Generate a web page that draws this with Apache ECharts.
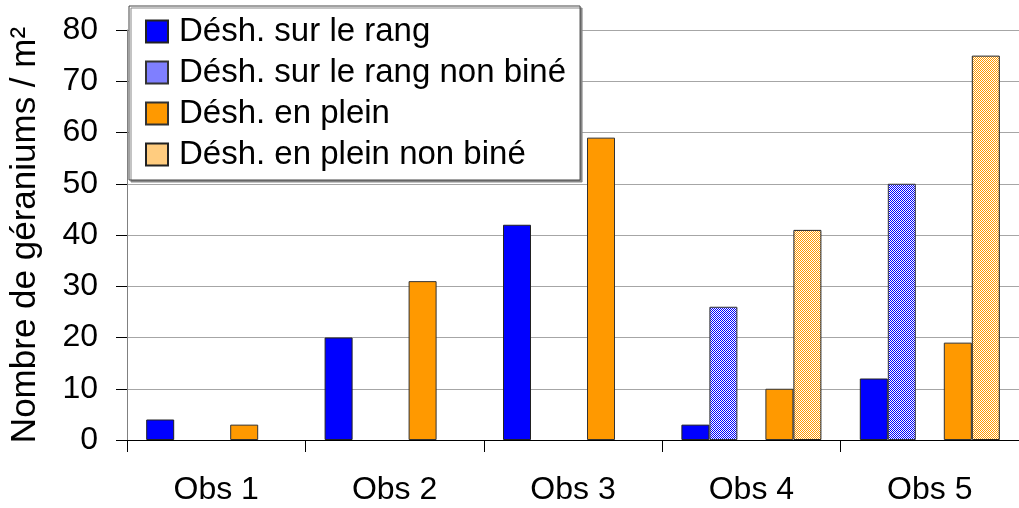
<!DOCTYPE html>
<html>
<head>
<meta charset="utf-8">
<script src="https://cdn.jsdelivr.net/npm/echarts@6/dist/echarts.min.js"></script>
<style>html,body{margin:0;padding:0;background:#fff;}#c{width:1019px;height:508px;}</style>
</head>
<body>
<div id="c"></div>
<script>
const categories = ['Obs 1', 'Obs 2', 'Obs 3', 'Obs 4', 'Obs 5'];
const seriesNames = ['Désh. sur le rang', 'Désh. sur le rang non biné', 'Désh. en plein', 'Désh. en plein non biné'];
const rangValues = [4, 20, 42, 3, 12];
const rangNonBineValues = [null, null, null, 26, 50];
const pleinValues = [3, 31, 59, 10, 19];
const pleinNonBineValues = [null, null, null, 41, 75];
const yTicks = [0, 10, 20, 30, 40, 50, 60, 70, 80];

function checker(color) {
  const c = document.createElement('canvas');
  c.width = 2; c.height = 2;
  const ctx = c.getContext('2d');
  ctx.fillStyle = '#ffffff';
  ctx.fillRect(0, 0, 2, 2);
  ctx.fillStyle = color;
  ctx.fillRect(0, 0, 1, 1);
  ctx.fillRect(1, 1, 1, 1);
  return { image: c, repeat: 'repeat' };
}

const font = 'Liberation Sans, Arial, sans-serif';
const chart = echarts.init(document.getElementById('c'), null, { renderer: 'canvas' });

function bar(name, data, color, border) {
  return {
    name: name, type: 'bar', data: data, barWidth: 28, barGap: '0%',
    itemStyle: { color: color, borderColor: border, borderWidth: 1 },
    emphasis: { disabled: true }, animation: false
  };
}

chart.setOption({
  animation: false,
  textStyle: { fontFamily: font, color: '#000' },
  grid: { left: 126, right: -7, top: 30, bottom: 68, containLabel: false },
  legend: {
    data: seriesNames,
    orient: 'vertical',
    left: 129, top: 6,
    padding: [9, 14, 9, 16],
    itemWidth: 22, itemHeight: 22, itemGap: 8,
    backgroundColor: '#fff',
    borderColor: '#444', borderWidth: 1,
    shadowColor: '#888', shadowBlur: 0, shadowOffsetX: 2, shadowOffsetY: 2,
    textStyle: { fontFamily: font, fontSize: 33, color: '#000', lineHeight: 33, padding: [0, 0, 0, 6] },
    icon: 'rect',
    selectedMode: false
  },
  xAxis: {
    type: 'category', data: categories,
    axisLine: { lineStyle: { color: '#000', width: 1 } },
    axisTick: { show: true, length: 12, lineStyle: { color: '#000' } },
    axisLabel: { fontSize: 32, color: '#000', margin: 34, fontFamily: font }
  },
  yAxis: {
    type: 'value', min: 0, max: 80, interval: 10,
    name: 'Nombre de géraniums / m²', nameLocation: 'middle', nameGap: 84,
    nameTextStyle: { fontSize: 35, color: '#000', fontFamily: font },
    axisLine: { show: true, lineStyle: { color: '#808080', width: 1 } },
    axisTick: { show: true, length: 11, lineStyle: { color: '#000' } },
    axisLabel: { fontSize: 32, color: '#000', margin: 29, fontFamily: font,
      formatter: v => yTicks.includes(v) ? String(v) : '' },
    splitLine: { show: true, lineStyle: { color: '#a6a6a6', width: 1 } }
  },
  series: [
    bar(seriesNames[0], rangValues, '#0000ff', '#222'),
    bar(seriesNames[1], rangNonBineValues, checker('#0000ff'), '#333'),
    bar('', [null, null, null, null, null], '#fff', '#fff'),
    bar(seriesNames[2], pleinValues, '#ff9900', '#333'),
    bar(seriesNames[3], pleinNonBineValues, checker('#ff9900'), '#222')
  ]
});
</script>
</body>
</html>
